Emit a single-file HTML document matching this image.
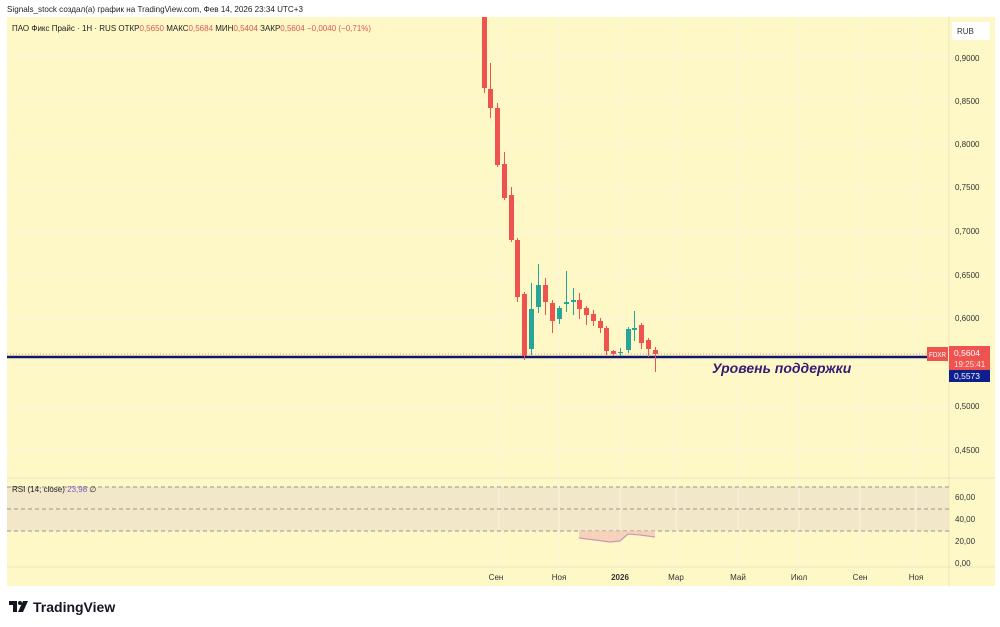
<!DOCTYPE html>
<html><head><meta charset="utf-8"><style>
html,body{margin:0;padding:0;background:#fff;width:1000px;height:627px;overflow:hidden}
svg{display:block;font-family:"Liberation Sans","DejaVu Sans",sans-serif}
</style></head><body>
<svg width="1000" height="627" viewBox="0 0 1000 627" xmlns="http://www.w3.org/2000/svg">
<rect x="0" y="0" width="1000" height="627" fill="#ffffff"/>
<text x="7" y="12" font-size="8.1" fill="#222">Signals_stock создал(а) график на TradingView.com, Фев 14, 2026 23:34 UTC+3</text>
<!-- chart bg -->
<rect x="7" y="17" width="988" height="569" fill="#fef8c7"/>
<!-- RSI band -->
<rect x="7" y="487" width="942" height="44" fill="#f2e8c9"/>
<!-- grid -->
<g stroke="#fbf5dc" stroke-width="1">
<line x1="7" y1="58" x2="949" y2="58"/><line x1="7" y1="101" x2="949" y2="101"/>
<line x1="7" y1="144" x2="949" y2="144"/><line x1="7" y1="187" x2="949" y2="187"/>
<line x1="7" y1="231" x2="949" y2="231"/><line x1="7" y1="275" x2="949" y2="275"/>
<line x1="7" y1="318" x2="949" y2="318"/><line x1="7" y1="406" x2="949" y2="406"/>
<line x1="7" y1="450" x2="949" y2="450"/>
<line x1="499" y1="17" x2="499" y2="567"/><line x1="559" y1="17" x2="559" y2="567"/>
<line x1="620" y1="17" x2="620" y2="567"/><line x1="676" y1="17" x2="676" y2="567"/>
<line x1="738" y1="17" x2="738" y2="567"/><line x1="799" y1="17" x2="799" y2="567"/>
<line x1="860" y1="17" x2="860" y2="567"/><line x1="916" y1="17" x2="916" y2="567"/>
</g>
<!-- separators -->
<line x1="7" y1="478" x2="995" y2="478" stroke="#ece5c0" stroke-width="1"/>
<line x1="7" y1="567" x2="995" y2="567" stroke="#ece5c0" stroke-width="1"/>
<line x1="949" y1="17" x2="949" y2="586" stroke="#ece5c0" stroke-width="1"/>
<!-- RSI dashed -->
<g stroke="#9a9488" stroke-width="1" stroke-dasharray="4,3">
<line x1="7" y1="487" x2="949" y2="487"/>
<line x1="7" y1="509" x2="949" y2="509"/>
<line x1="7" y1="531" x2="949" y2="531"/>
</g>
<!-- RSI fill and line -->
<path d="M579,531 L579,538 L595,540 L610,542 L620,541 L628,534 L640,535 L655,537 L655,531 Z" fill="#f6c7b8" opacity="0.8"/>
<polyline points="579,538 595,540 610,542 620,541 628,534 640,535 655,537" fill="none" stroke="#c79ab5" stroke-width="1.2"/>
<!-- current price dotted line -->
<line x1="7" y1="354" x2="949" y2="354" stroke="#ef5350" stroke-width="1" stroke-dasharray="1,2" opacity="0.6"/>
<!-- support line -->
<line x1="7" y1="357" x2="927" y2="357" stroke="#0d1a6b" stroke-width="2.5"/>
<!-- candles -->
<g>
<g fill="#ef5350" stroke="#ef5350">
<line x1="484.5" y1="17" x2="484.5" y2="93"/><rect x="482" y="17" width="5" height="71" stroke="none"/>
<line x1="490.5" y1="63" x2="490.5" y2="118"/><rect x="488" y="89" width="5" height="19" stroke="none"/>
<line x1="497.5" y1="103" x2="497.5" y2="167"/><rect x="495" y="108" width="5" height="57" stroke="none"/>
<line x1="504.5" y1="152" x2="504.5" y2="200"/><rect x="502" y="164" width="5" height="34" stroke="none"/>
<line x1="511.5" y1="187" x2="511.5" y2="242"/><rect x="509" y="195" width="5" height="45" stroke="none"/>
<line x1="517.5" y1="238" x2="517.5" y2="302"/><rect x="515" y="240" width="5" height="57" stroke="none"/>
<line x1="524.5" y1="292" x2="524.5" y2="360"/><rect x="522" y="294" width="5" height="62" stroke="none"/>
<line x1="545.5" y1="278" x2="545.5" y2="315"/><rect x="543" y="285" width="5" height="17" stroke="none"/>
<line x1="552.5" y1="300" x2="552.5" y2="333"/><rect x="550" y="303" width="5" height="18" stroke="none"/>
<line x1="579.5" y1="293" x2="579.5" y2="319"/><rect x="577" y="300" width="5" height="9" stroke="none"/>
<line x1="586.5" y1="306" x2="586.5" y2="325"/><rect x="584" y="308" width="5" height="7" stroke="none"/>
<line x1="593.5" y1="310" x2="593.5" y2="326"/><rect x="591" y="314" width="5" height="7" stroke="none"/>
<line x1="600.5" y1="318" x2="600.5" y2="333"/><rect x="598" y="321" width="5" height="7" stroke="none"/>
<line x1="606.5" y1="326" x2="606.5" y2="355"/><rect x="604" y="328" width="5" height="23" stroke="none"/>
<line x1="613.5" y1="350" x2="613.5" y2="356"/><rect x="611" y="351" width="5" height="3" stroke="none"/>
<line x1="641.5" y1="323" x2="641.5" y2="349"/><rect x="639" y="325" width="5" height="18" stroke="none"/>
<line x1="648.5" y1="338" x2="648.5" y2="357"/><rect x="646" y="340" width="5" height="9" stroke="none"/>
<line x1="655.5" y1="347" x2="655.5" y2="372"/><rect x="653" y="350" width="5" height="4" stroke="none"/>
</g>
<g fill="#26a69a" stroke="#26a69a">
<line x1="531.5" y1="283" x2="531.5" y2="355"/><rect x="529" y="309" width="5" height="40" stroke="none"/>
<line x1="538.5" y1="264" x2="538.5" y2="313"/><rect x="536" y="285" width="5" height="22" stroke="none"/>
<line x1="559.5" y1="306" x2="559.5" y2="324"/><rect x="557" y="308" width="5" height="11" stroke="none"/>
<line x1="566.5" y1="271" x2="566.5" y2="312"/><rect x="564" y="302" width="5" height="2" stroke="none"/>
<line x1="573.5" y1="288" x2="573.5" y2="315"/><rect x="571" y="300" width="5" height="2" stroke="none"/>
<line x1="620.5" y1="348" x2="620.5" y2="356"/><rect x="618" y="352" width="5" height="1" stroke="none"/>
<line x1="628.5" y1="327" x2="628.5" y2="353"/><rect x="626" y="329" width="5" height="21" stroke="none"/>
<line x1="634.5" y1="311" x2="634.5" y2="341"/><rect x="632" y="328" width="5" height="2" stroke="none"/>
</g>
</g>
<!-- legend -->
<text x="12" y="31" font-size="8" fill="#222">ПАО Фикс Прайс · 1H · RUS  ОТКР<tspan fill="#e0574f">0,5650</tspan>  МАКС<tspan fill="#e0574f">0,5684</tspan>  МИН<tspan fill="#e0574f">0,5404</tspan>  ЗАКР<tspan fill="#e0574f">0,5604</tspan>  <tspan fill="#e0574f">−0,0040 (−0,71%)</tspan></text>
<text x="12" y="492" font-size="8" fill="#222">RSI (14; close) <tspan fill="#7e57c2">23,98</tspan> ∅</text>
<!-- annotation -->
<text x="712" y="373" font-size="14" font-weight="bold" font-style="italic" fill="#3a1a72">Уровень поддержки</text>
<!-- price axis -->
<rect x="952" y="22" width="38" height="18" fill="#ffffff"/>
<text x="957" y="34" font-size="8" fill="#333">RUB</text>
<g font-size="8" fill="#333">
<text x="955" y="61">0,9000</text><text x="955" y="104">0,8500</text>
<text x="955" y="147">0,8000</text><text x="955" y="190">0,7500</text>
<text x="955" y="234">0,7000</text><text x="955" y="278">0,6500</text>
<text x="955" y="321">0,6000</text><text x="955" y="409">0,5000</text>
<text x="955" y="453">0,4500</text>
<text x="955" y="500">60,00</text><text x="955" y="522">40,00</text>
<text x="955" y="544">20,00</text><text x="955" y="566">0,00</text>
</g>
<!-- labels -->
<rect x="927" y="347" width="21" height="14" fill="#ef5350"/>
<text x="929" y="357" font-size="7" fill="#fff" textLength="17" lengthAdjust="spacingAndGlyphs">FDXR</text>
<rect x="949" y="346" width="41" height="24" fill="#ef5350"/>
<text x="954" y="356" font-size="8.5" fill="#fff">0,5604</text>
<text x="954" y="367" font-size="8" fill="#ffe0e0">19:25:41</text>
<rect x="949" y="370" width="41" height="12" fill="#0d1f8c"/>
<text x="954" y="379" font-size="8.5" fill="#fff">0,5573</text>
<!-- time axis -->
<g font-size="8" fill="#333" text-anchor="middle">
<text x="496" y="580">Сен</text><text x="559" y="580">Ноя</text>
<text x="620" y="580" font-weight="bold">2026</text><text x="676" y="580">Мар</text>
<text x="738" y="580">Май</text><text x="799" y="580">Июл</text>
<text x="860" y="580">Сен</text><text x="916" y="580">Ноя</text>
</g>
<!-- TradingView logo -->
<g fill="#131722">
<path d="M9,601 H17 V612 H13 V605 H9 Z"/>
<circle cx="20" cy="603" r="2"/>
<path d="M23,601 H28 L23,612 H18 Z"/>
</g>
<text x="33" y="612" font-size="14" font-weight="bold" fill="#131722">TradingView</text>
</svg>
</body></html>
